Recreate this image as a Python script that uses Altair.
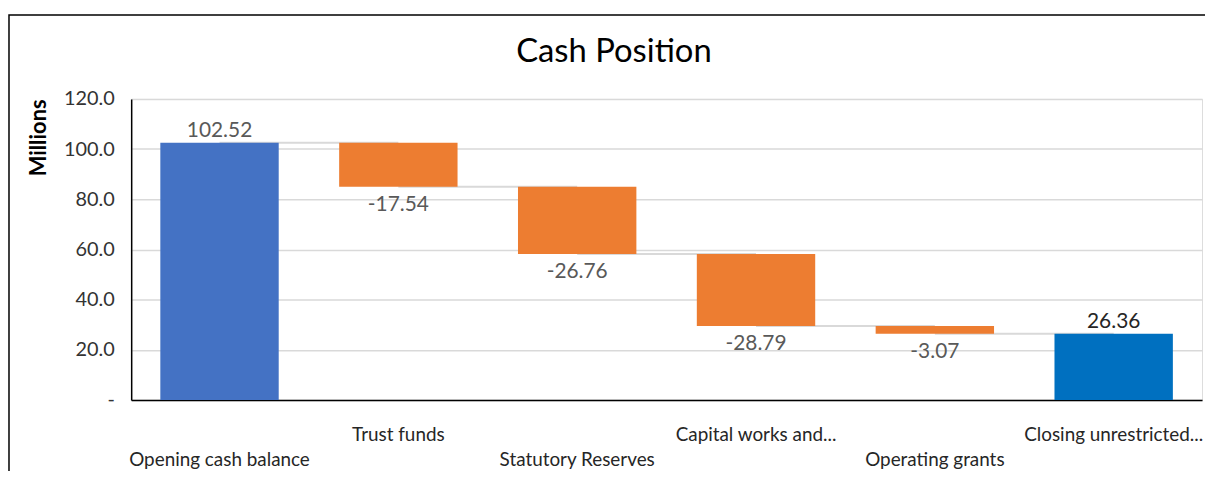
import altair as alt
import pandas as pd

categories = ["Opening cash balance", "Trust funds", "Statutory Reserves",
              "Capital works and...", "Operating grants", "Closing unrestricted..."]
amounts = [102.52, -17.54, -26.76, -28.79, -3.07, 26.36]
kinds = ["open", "decrease", "decrease", "decrease", "decrease", "close"]
y_ticks = [0, 20, 40, 60, 80, 100, 120]
title_text = "Cash Position"

rows = []
running = 0.0
for i, (c, a, k) in enumerate(zip(categories, amounts, kinds)):
    if k in ("open", "close"):
        start, end = 0.0, a
        running = a
    else:
        start, end = running, running + a
        running = end
    rows.append(dict(cat=c, amount=a, label=f"{a:.2f}", kind=k, start=start, end=end,
                     idx=i, parity=i % 2,
                     nxt=categories[i + 1] if i + 1 < len(categories) else None))
df = pd.DataFrame(rows)

W, H = 1078, 303
FONT = "Lato"

x = alt.X("cat:N", sort=categories,
          scale=alt.Scale(paddingInner=0.338, paddingOuter=0.163),
          axis=alt.Axis(title=None, labels=False, ticks=False, domainColor="#000000",
                        domainWidth=1.5, grid=False))
yscale = alt.Scale(domain=[0, 120], nice=False)

base = alt.Chart(df)

frame = base.transform_filter("datum.idx == 0").mark_rect(
    fill=None, stroke="#000000", strokeWidth=1.5, clip=False
).encode(x=alt.value(-123), x2=alt.value(1095), y=alt.value(-84.5), y2=alt.value(390))

title = base.transform_filter("datum.idx == 0").mark_text(
    font=FONT, fontSize=33, color="#000000", baseline="middle", align="center"
).encode(x=alt.value(618 - 132), y=alt.value(-47), text=alt.value(title_text))

conn = base.transform_filter("datum.nxt != null").mark_rule(
    color="#D9D9D9", strokeWidth=2
).encode(
    x=x,
    x2=alt.X2("nxt:N"),
    y=alt.Y("end:Q", scale=yscale),
)

bars = base.mark_bar().encode(
    x=x,
    y=alt.Y("start:Q", scale=yscale,
            axis=alt.Axis(values=y_ticks, title="Millions", titleFont=FONT,
                          titleFontSize=22, titleFontWeight="bold", titleColor="#000000",
                          titlePadding=13, titleAnchor="end",
                          labelExpr="datum.value == 0 ? '-' : format(datum.value, '.1f')",
                          labelFont=FONT, labelFontSize=20, labelColor="#333333",
                          labelPadding=17, ticks=False, domainColor="#000000",
                          domainWidth=1.5, gridColor="#D9D9D9", gridWidth=1.5)),
    y2="end:Q",
    color=alt.Color("kind:N", scale=alt.Scale(domain=["open", "decrease", "close"],
                                              range=["#4472C4", "#ED7D31", "#0070C0"]),
                    legend=None),
)

lab_top_open = base.transform_filter("datum.kind == 'open'").mark_text(
    baseline="bottom", dy=-2, font=FONT, fontSize=21, color="#595959"
).encode(x=x, y=alt.Y("end:Q", scale=yscale), text="label:N")

lab_top_close = base.transform_filter("datum.kind == 'close'").mark_text(
    baseline="bottom", dy=-2, font=FONT, fontSize=21, color="#262626"
).encode(x=x, y=alt.Y("end:Q", scale=yscale), text="label:N")

lab_dec = base.transform_filter("datum.kind == 'decrease'").mark_text(
    baseline="top", dy=7, font=FONT, fontSize=21, color="#595959"
).encode(x=x, y=alt.Y("end:Q", scale=yscale), text="label:N")

xlab_odd = base.transform_filter("datum.parity == 1").mark_text(
    baseline="middle", font=FONT, fontSize=19, color="#262626"
).encode(x=x, y=alt.value(H + 35), text="cat:N")

xlab_even = base.transform_filter("datum.parity == 0").mark_text(
    baseline="middle", font=FONT, fontSize=19, color="#262626"
).encode(x=x, y=alt.value(H + 61), text="cat:N")

chart = alt.layer(frame, title, conn, bars, lab_top_open, lab_top_close, lab_dec,
                  xlab_odd, xlab_even).properties(
    width=W, height=H,
    autosize=alt.AutoSizeParams(type="none"),
    padding={"left": 124, "top": 90, "right": 3, "bottom": 70},
).configure_view(stroke=None).configure(background="#FFFFFF")

chart.save("out.html", embed_options={"renderer": "svg", "actions": False})
